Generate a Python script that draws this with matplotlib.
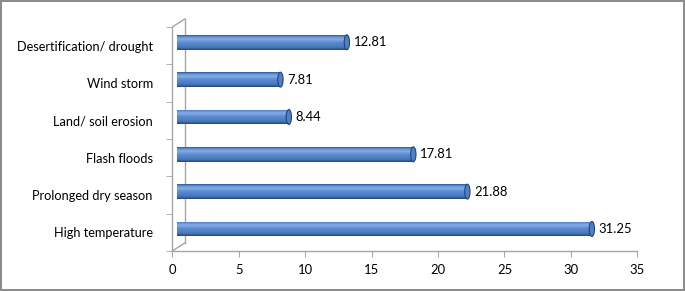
import numpy as np
import matplotlib.pyplot as plt
from matplotlib.colors import LinearSegmentedColormap
from matplotlib.patches import Ellipse

# data, listed bottom to top
categories = ["High temperature", "Prolonged dry season", "Flash floods",
              "Land/ soil erosion", "Wind storm", "Desertification/ drought"]
values = [31.25, 21.88, 17.81, 8.44, 7.81, 12.81]
xticks = [0, 5, 10, 15, 20, 25, 30, 35]

plt.rcParams['font.family'] = ['Lato', 'DejaVu Sans']

W, H = 685, 291
fig = plt.figure(figsize=(W / 100, H / 100), dpi=100)
fig.patch.set_edgecolor('#8c8c8c')
fig.patch.set_linewidth(1.5)

left, right, bottom, top = 172.3, 637.3, 251, 27
ax = fig.add_axes([left / W, 1 - bottom / H, (right - left) / W, (bottom - top) / H])
for s in ax.spines.values():
    s.set_visible(False)

# 3d frame: depth offset in data units
ddx, ddy = 0.94, 0.214
gcol = '#a6a6a6'
ax.plot([0, 35], [-0.5, -0.5], color=gcol, lw=1, clip_on=False)
ax.plot([0, 0], [-0.5, 5.5], color=gcol, lw=1, clip_on=False)
ax.plot([ddx, ddx], [-0.5 + ddy, 5.5 + ddy], color=gcol, lw=1, clip_on=False)
ax.plot([0, ddx], [-0.5, -0.5 + ddy], color=gcol, lw=1, clip_on=False)
ax.plot([0, ddx], [5.5, 5.5 + ddy], color=gcol, lw=1, clip_on=False)

ax.set_xticks(xticks)
ax.set_yticks(np.arange(len(categories)))
ax.set_yticklabels(categories)
ax.set_yticks(np.arange(-0.5, len(categories), 1), minor=True)
ax.tick_params(axis='y', which='major', length=0, pad=14, labelsize=9.2)
ax.tick_params(axis='y', which='minor', length=4, color=gcol, direction='out')
ax.tick_params(axis='x', length=4, color=gcol, labelsize=9.4, pad=5)

# cylinder bars
x0 = 0.33
yoff = 0.09
bh = 0.4
cyl = LinearSegmentedColormap.from_list('cyl', [
    (0.0, '#2a5494'), (0.1, '#5d8ed3'), (0.28, '#86ade4'), (0.5, '#5a8ad0'),
    (0.82, '#4878bb'), (1.0, '#22477f')])
grad = np.linspace(0, 1, 64).reshape(-1, 1)

bars = ax.barh(np.arange(len(values)) + yoff, values, height=bh, left=x0,
               color='none', edgecolor='none')
for b, v in zip(bars, values):
    im = ax.imshow(grad, cmap=cyl, aspect='auto', interpolation='bilinear',
                   extent=(b.get_x(), b.get_x() + b.get_width(), b.get_y(), b.get_y() + bh),
                   origin='upper', zorder=2)
    im.set_clip_path(b)
    xe = b.get_x() + b.get_width()
    ax.add_patch(Ellipse((xe, b.get_y() + bh / 2), 0.4, bh, facecolor='#4f80c4',
                         edgecolor='#23457a', lw=0.8, zorder=3))
    ax.annotate(f"{v:.2f}", (xe + 0.2, b.get_y() + bh / 2), xytext=(3, 0),
                textcoords='offset points', va='center', ha='left', fontsize=9.4)

ax.set_xlim(0, 35)
ax.set_ylim(-0.5, 5.5)

fig.savefig('out.png', dpi=100, edgecolor=fig.get_edgecolor())
